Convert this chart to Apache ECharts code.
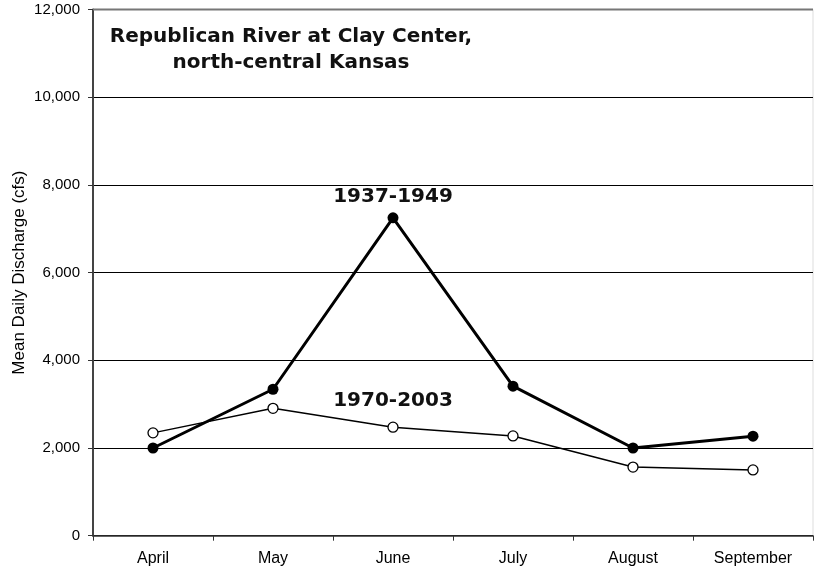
<!DOCTYPE html>
<html>
<head>
<meta charset="utf-8">
<script src="https://cdn.jsdelivr.net/npm/echarts@6/dist/echarts.min.js"></script>
<style>html,body{margin:0;padding:0;background:#fff}#c{width:814px;height:571px}</style>
</head>
<body>
<div id="c"></div>
<script>
var months = ['April', 'May', 'June', 'July', 'August', 'September'];
var early = [2000, 3340, 7250, 3410, 2000, 2270];
var late = [2345, 2905, 2475, 2275, 1565, 1500];
var earlyName = '1937-1949';
var lateName = '1970-2003';
var yTicks = [0, 2000, 4000, 6000, 8000, 10000, 12000];
var labelIndex = 2;

var chart = echarts.init(document.getElementById('c'));
var bigFont = 'DejaVu Sans, sans-serif';
var smallFont = 'Liberation Sans, Arial, sans-serif';
function withLabel(arr, name, dist) {
  return arr.map(function (v, i) {
    if (i !== labelIndex) return v;
    return {value: v, label: {show: true, position: 'top', distance: dist, formatter: name,
      fontFamily: bigFont, fontWeight: 'bold', fontSize: 20, color: '#111'}};
  });
}
chart.setOption({
  animation: false,
  title: {
    text: 'Republican River at Clay Center,\nnorth-central Kansas',
    left: 291, top: 24, textAlign: 'center', padding: 0,
    textStyle: {fontFamily: bigFont, fontWeight: 'bold', fontSize: 20, lineHeight: 26, color: '#111'}
  },
  grid: {left: 93, right: 1, top: 9.5, bottom: 35.3, show: true, borderColor: '#dddddd', borderWidth: 1,
    containLabel: false, outerBoundsMode: 'none'},
  xAxis: {
    type: 'category', data: months, boundaryGap: true,
    axisLine: {lineStyle: {color: '#333', width: 1.5}},
    axisTick: {show: true, length: 5, alignWithLabel: false, lineStyle: {color: '#333'}},
    axisLabel: {margin: 15, fontFamily: smallFont, fontSize: 16, color: '#000'}
  },
  yAxis: {
    type: 'value', min: yTicks[0], max: yTicks[yTicks.length - 1], interval: 2000,
    name: 'Mean Daily Discharge (cfs)', nameLocation: 'middle', nameGap: 65, nameMoveOverlap: false,
    nameTextStyle: {fontFamily: smallFont, fontSize: 17, color: '#000'},
    axisLine: {show: true, lineStyle: {color: '#444', width: 2}},
    axisTick: {show: true, length: 5, lineStyle: {color: '#333'}},
    axisLabel: {margin: 13, fontFamily: smallFont, fontSize: 15, color: '#000',
      formatter: function (v) { return v.toLocaleString('en-US'); }},
    splitLine: {show: true, lineStyle: {color: ['#000', '#000', '#000', '#000', '#000', '#000', '#777'], width: 1}}
  },
  graphic: [{type: 'line', shape: {x1: 93, y1: 9.5, x2: 813, y2: 9.5}, style: {stroke: '#777', lineWidth: 2}, z: 10}],
  series: [
    {name: lateName, type: 'line', data: withLabel(late, lateName, 11), symbol: 'circle', symbolSize: 10,
      lineStyle: {color: '#000', width: 1.5}, itemStyle: {color: '#fff', borderColor: '#000', borderWidth: 1.3}, z: 3},
    {name: earlyName, type: 'line', data: withLabel(early, earlyName, 5), symbol: 'circle', symbolSize: 11,
      lineStyle: {color: '#000', width: 3}, itemStyle: {color: '#000', borderColor: '#000', borderWidth: 0}, z: 4}
  ]
});
</script>
</body>
</html>
